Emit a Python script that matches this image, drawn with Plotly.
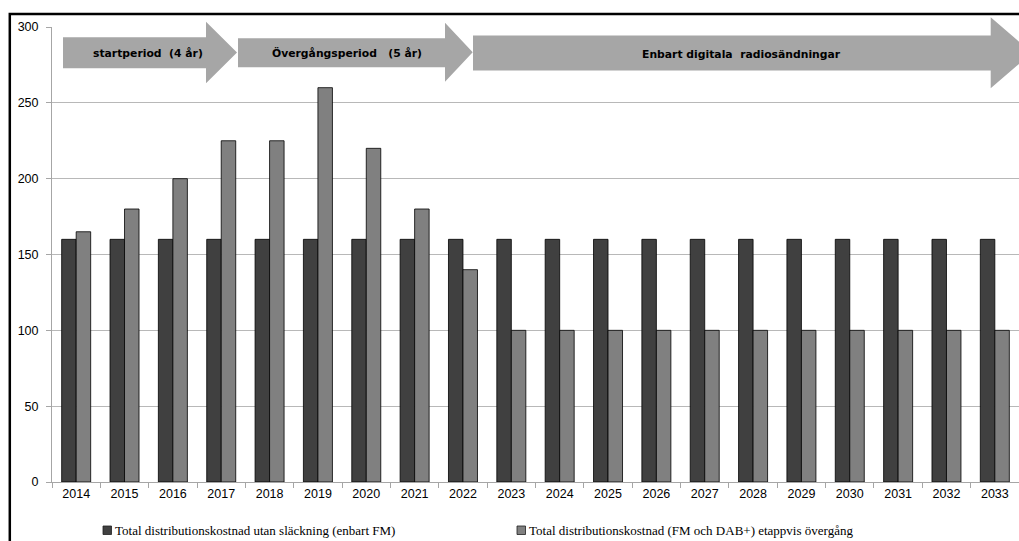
import plotly.graph_objects as go

years = [str(y) for y in range(2014, 2034)]
fm_only = [160] * 20
fm_dab = [165, 180, 200, 225, 225, 260, 220, 180, 140,
          100, 100, 100, 100, 100, 100, 100, 100, 100, 100, 100]
series_names = ["Total distributionskostnad utan släckning (enbart FM)",
                "Total distributionskostnad (FM och DAB+) etappvis övergång"]
series_colors = ["#404040", "#808080"]
y_ticks = [0, 50, 100, 150, 200, 250, 300]
arrow_labels = ["startperiod\u00a0\u00a0(4 år)",
                "Övergångsperiod\u00a0\u00a0\u00a0(5 år)",
                "Enbart digitala\u00a0\u00a0radiosändningar"]

W, H = 1019, 541
L, R, T, B = 52, 0, 27, 59
PW, PH = W - L - R, H - T - B


def xp(px):
    return (px - L) / PW


def yp(py):
    return (H - B - py) / PH


fig = go.Figure()
for name, vals, col in zip(series_names, [fm_only, fm_dab], series_colors):
    fig.add_trace(go.Bar(x=years, y=vals, name=name, showlegend=False,
                         marker=dict(color=col, line=dict(color="#000000", width=0.8))))

shapes = []
# outer frame
shapes.append(dict(type="rect", xref="paper", yref="paper",
                   x0=xp(9.8), x1=xp(1040), y0=yp(14), y1=yp(570),
                   line=dict(color="#000000", width=2.5), fillcolor="rgba(0,0,0,0)",
                   layer="above"))

# arrows: (body_left, body_right, body_top, body_bottom, head_top, head_bottom, tip_x)
arrows = [
    (63, 206, 37.3, 68.3, 21.7, 83.3, 237),
    (238, 445, 38.3, 67.3, 22.7, 81.7, 472.7),
    (473, 990.7, 35.5, 70.5, 17.3, 88.3, 1032),
]
for (bl, br, bt, bb, ht, hb, tip) in arrows:
    ty = (ht + hb) / 2
    pts = [(bl, bt), (br, bt), (br, ht), (tip, ty), (br, hb), (br, bb), (bl, bb)]
    path = "M " + " L ".join(f"{xp(a):.5f},{yp(b):.5f}" for a, b in pts) + " Z"
    shapes.append(dict(type="path", xref="paper", yref="paper", path=path,
                       fillcolor="#a6a6a6", line=dict(width=0), layer="above"))

annotations = []
label_pos = [(147.5, 53), (346.5, 53), (741, 54)]
for txt, (cx, cy) in zip(arrow_labels, label_pos):
    annotations.append(dict(text=f"<b>{txt}</b>", xref="paper", yref="paper",
                            x=xp(cx), y=yp(cy), showarrow=False,
                            xanchor="center", yanchor="middle",
                            font=dict(family="DejaVu Sans", size=10.8, color="#000000")))

# legend (markers + labels)
legend_x = [103, 517]
legend_y = 530
for lx, name, col in zip(legend_x, series_names, series_colors):
    shapes.append(dict(type="rect", xref="paper", yref="paper",
                       x0=xp(lx), x1=xp(lx + 8.5), y0=yp(legend_y + 4.5), y1=yp(legend_y - 4),
                       fillcolor=col, line=dict(color="#202020", width=0.8)))
    annotations.append(dict(text=name, xref="paper", yref="paper",
                            x=xp(lx + 9.5), y=yp(legend_y), showarrow=False,
                            xanchor="left", yanchor="middle",
                            font=dict(family="Liberation Serif", size=13, color="#000000")))

fig.update_layout(
    width=W, height=H,
    margin=dict(l=L, r=R, t=T, b=B, pad=0),
    paper_bgcolor="white", plot_bgcolor="white",
    barmode="group", bargap=0.40, bargroupgap=0,
    shapes=shapes, annotations=annotations,
    font=dict(family="Liberation Sans", size=12, color="#000000"),
    showlegend=False,
)
fig.update_xaxes(type="category", showgrid=False, showline=True, linecolor="#a6a6a6",
                 linewidth=1, ticks="outside", tickson="boundaries", ticklen=5,
                 tickcolor="#a6a6a6", tickfont=dict(family="Liberation Sans", size=12.5))
fig.update_yaxes(range=[0, 300], tickvals=y_ticks, showgrid=True, gridcolor="#b8b8b8",
                 gridwidth=1, showline=True, linecolor="#a6a6a6", linewidth=1,
                 ticks="outside", ticklen=5, tickcolor="#a6a6a6", zeroline=False,
                 ticklabelstandoff=5,
                 tickfont=dict(family="Liberation Sans", size=12.5))

fig.write_html("out.html")
